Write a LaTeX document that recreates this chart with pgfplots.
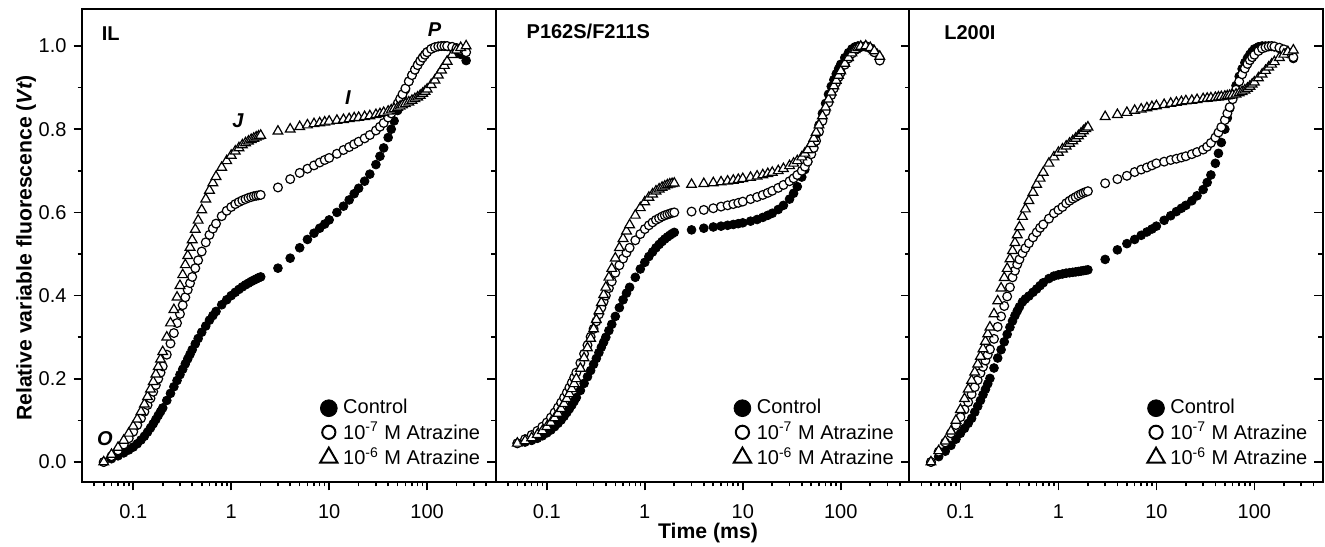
\documentclass[border=0pt]{standalone}
\usepackage{fontspec}
\setmainfont{Liberation Sans}
\usepackage{pgfplots}
\usepackage{pgfplotstable}
\pgfplotsset{compat=1.18}

\pgfplotstableread{
x c1 a71 a61 c2 a72 a62 c3 a73 a63
0.05 0.000 0.000 0.000 0.045 0.045 0.045 0.000 0.000 0.000
0.06 0.008 0.014 0.018 0.048 0.055 0.051 0.013 0.025 0.027
0.07 0.015 0.028 0.035 0.052 0.065 0.058 0.026 0.047 0.050
0.08 0.022 0.042 0.052 0.057 0.075 0.066 0.040 0.069 0.074
0.09 0.029 0.057 0.069 0.063 0.085 0.075 0.055 0.089 0.100
0.10 0.036 0.073 0.086 0.070 0.095 0.085 0.069 0.108 0.126
0.11 0.044 0.089 0.103 0.077 0.107 0.095 0.081 0.126 0.152
0.12 0.053 0.105 0.121 0.085 0.119 0.106 0.093 0.144 0.175
0.13 0.062 0.121 0.139 0.093 0.131 0.117 0.105 0.163 0.196
0.14 0.072 0.137 0.157 0.101 0.143 0.128 0.120 0.180 0.216
0.15 0.082 0.153 0.175 0.110 0.155 0.140 0.134 0.197 0.235
0.16 0.092 0.169 0.193 0.119 0.167 0.152 0.148 0.214 0.254
0.17 0.102 0.185 0.211 0.128 0.179 0.164 0.162 0.229 0.272
0.18 0.112 0.200 0.229 0.137 0.191 0.176 0.175 0.244 0.290
0.19 0.121 0.215 0.247 0.146 0.203 0.188 0.188 0.258 0.308
0.20 0.130 0.230 0.265 0.155 0.215 0.200 0.201 0.271 0.324
0.22 0.148 0.258 0.300 0.172 0.238 0.225 0.226 0.296 0.356
0.24 0.165 0.285 0.334 0.189 0.260 0.250 0.250 0.325 0.387
0.26 0.181 0.310 0.366 0.205 0.281 0.274 0.270 0.350 0.418
0.28 0.196 0.334 0.396 0.220 0.301 0.297 0.289 0.375 0.443
0.30 0.210 0.356 0.424 0.235 0.320 0.320 0.307 0.398 0.465
0.32 0.223 0.377 0.450 0.249 0.338 0.342 0.324 0.420 0.488
0.34 0.236 0.396 0.474 0.263 0.355 0.363 0.339 0.444 0.508
0.36 0.248 0.414 0.496 0.276 0.371 0.383 0.352 0.460 0.527
0.38 0.259 0.430 0.516 0.288 0.386 0.402 0.363 0.475 0.546
0.40 0.270 0.445 0.534 0.300 0.400 0.420 0.373 0.487 0.565
0.43 0.284 0.466 0.559 0.316 0.418 0.444 0.385 0.502 0.590
0.46 0.297 0.485 0.581 0.331 0.434 0.465 0.392 0.514 0.608
0.50 0.312 0.506 0.606 0.350 0.455 0.490 0.399 0.526 0.628
0.55 0.327 0.528 0.632 0.371 0.473 0.515 0.408 0.540 0.648
0.60 0.341 0.546 0.653 0.390 0.489 0.537 0.416 0.552 0.667
0.65 0.352 0.561 0.671 0.406 0.503 0.555 0.424 0.563 0.682
0.70 0.362 0.573 0.686 0.420 0.515 0.570 0.431 0.571 0.696
0.80 0.378 0.591 0.708 0.444 0.533 0.593 0.441 0.585 0.718
0.90 0.390 0.604 0.724 0.464 0.548 0.611 0.447 0.598 0.733
1.0 0.400 0.613 0.737 0.480 0.560 0.625 0.450 0.606 0.744
1.1 0.408 0.620 0.747 0.494 0.569 0.636 0.452 0.613 0.752
1.2 0.415 0.625 0.755 0.505 0.576 0.644 0.454 0.622 0.759
1.3 0.421 0.629 0.762 0.515 0.582 0.651 0.455 0.628 0.766
1.4 0.426 0.632 0.767 0.523 0.586 0.656 0.456 0.633 0.772
1.5 0.430 0.635 0.771 0.530 0.590 0.660 0.457 0.637 0.778
1.6 0.434 0.637 0.775 0.536 0.593 0.663 0.458 0.641 0.784
1.7 0.437 0.639 0.778 0.541 0.595 0.666 0.459 0.644 0.790
1.8 0.440 0.640 0.781 0.545 0.597 0.668 0.460 0.647 0.796
1.9 0.443 0.641 0.783 0.549 0.599 0.669 0.461 0.649 0.801
2.0 0.445 0.642 0.785 0.552 0.600 0.670 0.462 0.651 0.805
3 0.466 0.660 0.795 0.558 0.602 0.667 0.487 0.670 0.830
4 0.490 0.680 0.800 0.562 0.606 0.669 0.510 0.680 0.835
5 0.515 0.695 0.806 0.565 0.610 0.671 0.525 0.688 0.840
6 0.535 0.705 0.810 0.567 0.614 0.673 0.535 0.697 0.845
7 0.550 0.713 0.813 0.569 0.617 0.675 0.545 0.703 0.848
8 0.562 0.720 0.815 0.571 0.620 0.677 0.553 0.708 0.851
9 0.572 0.726 0.817 0.573 0.623 0.679 0.560 0.713 0.854
10 0.582 0.731 0.819 0.575 0.626 0.681 0.567 0.718 0.856
12 0.600 0.741 0.821 0.579 0.632 0.684 0.581 0.722 0.859
14 0.615 0.750 0.823 0.583 0.637 0.687 0.592 0.726 0.862
16 0.630 0.757 0.825 0.588 0.642 0.690 0.602 0.729 0.864
18 0.645 0.764 0.827 0.593 0.647 0.693 0.610 0.732 0.866
20 0.658 0.770 0.828 0.598 0.652 0.696 0.617 0.735 0.868
23 0.675 0.778 0.830 0.607 0.659 0.700 0.628 0.740 0.869
26 0.692 0.786 0.832 0.617 0.666 0.705 0.640 0.745 0.871
30 0.715 0.797 0.835 0.632 0.675 0.712 0.655 0.751 0.873
33 0.735 0.806 0.837 0.646 0.682 0.718 0.672 0.758 0.874
36 0.755 0.815 0.840 0.662 0.690 0.724 0.690 0.767 0.875
40 0.780 0.828 0.843 0.685 0.700 0.733 0.718 0.780 0.876
43 0.800 0.838 0.846 0.703 0.710 0.742 0.742 0.792 0.877
46 0.820 0.848 0.849 0.722 0.722 0.750 0.768 0.805 0.878
50 0.845 0.862 0.852 0.748 0.740 0.765 0.800 0.822 0.879
53 0.862 0.873 0.855 0.767 0.755 0.778 0.827 0.838 0.880
56 0.878 0.884 0.858 0.786 0.772 0.792 0.850 0.853 0.881
60 0.895 0.898 0.861 0.810 0.794 0.810 0.877 0.872 0.882
65 0.915 0.915 0.865 0.838 0.820 0.832 0.905 0.895 0.884
70 0.930 0.930 0.869 0.862 0.843 0.853 0.927 0.915 0.887
75 0.943 0.943 0.873 0.884 0.864 0.872 0.945 0.932 0.890
80 0.955 0.954 0.877 0.903 0.882 0.889 0.960 0.946 0.894
85 0.965 0.964 0.881 0.919 0.898 0.904 0.971 0.957 0.898
90 0.973 0.972 0.886 0.933 0.912 0.917 0.980 0.966 0.903
95 0.980 0.979 0.891 0.945 0.925 0.929 0.987 0.973 0.908
100 0.986 0.985 0.896 0.956 0.936 0.940 0.993 0.979 0.913
110 0.993 0.993 0.907 0.972 0.955 0.958 0.998 0.988 0.923
120 0.997 0.997 0.918 0.984 0.970 0.972 1.000 0.994 0.932
130 0.999 0.999 0.930 0.993 0.982 0.983 1.000 0.997 0.941
140 1.000 1.000 0.942 0.998 0.990 0.991 1.000 0.999 0.949
150 1.000 1.000 0.953 1.000 0.995 0.996 0.999 1.000 0.956
160 0.999 1.000 0.963 1.000 0.998 0.999 0.998 0.999 0.962
180 0.996 0.998 0.979 0.998 1.000 1.000 0.994 0.996 0.972
200 0.990 0.995 0.990 0.994 0.995 0.996 0.990 0.992 0.980
220 0.980 0.990 0.996 0.985 0.985 0.988 0.982 0.985 0.986
250 0.965 0.985 1.000 0.970 0.965 0.975 0.970 0.973 0.990
}\data

\pgfplotsset{
  legend image code/.code={\draw[#1] plot coordinates {(5pt,0pt)}; \path (0pt,0pt) (10pt,0pt);},
  ctrl/.style={only marks, mark=*, mark size=2.2pt, mark options={fill=black, draw=black, line width=0.4pt},
    legend image post style={mark size=4.2pt}},
  aseven/.style={only marks, mark=*, mark size=2.2pt, mark options={fill=white, draw=black, line width=0.6pt},
    legend image post style={mark size=3.3pt, mark options={line width=1pt, fill=white, draw=black}}},
  asix/.style={only marks, mark=triangle*, mark size=2.8pt, mark options={fill=white, draw=black, line width=0.6pt},
    legend image post style={mark size=5pt, mark options={line width=1pt, fill=white, draw=black}}},
  common/.style={anchor=south west, scale only axis,
    width=206.8pt, height=236.3pt,
    xmin=0.03, xmax=500, ymin=-0.048, ymax=1.088,
    major tick length=4.2pt, minor tick length=2.2pt,
    axis line style={line width=0.9pt},
    every tick/.append style={black, line width=0.8pt},
    tick label style={font=\fontsize{10}{12}\selectfont},
    ytick={0,0.2,0.4,0.6,0.8,1.0}, minor ytick={0.1,0.3,0.5,0.7,0.9}},
  panel/.style={common,
    xtick={0.1,1,10,100}, xticklabels={0.1,1,10,100},
    minor xtick={0.04,0.05,0.06,0.07,0.08,0.09,0.2,0.3,0.4,0.5,0.6,0.7,0.8,0.9,2,3,4,5,6,7,8,9,20,30,40,50,60,70,80,90,200,300,400},
    xtick pos=left, xtick align=outside,
    xticklabel style={yshift=-3.5pt},
    ytick pos=right, ytick align=inside, yticklabels={},
    legend style={at={(0.973,0.021)}, anchor=south east, draw=none, fill=none,
      font=\fontsize{10}{12}\selectfont, row sep=-1.3pt, inner sep=0pt,
      cells={anchor=west}}},
}

\begin{document}
\begin{tikzpicture}
\path[use as bounding box] (0,0) rectangle (662.5pt,273pt);

% Panel 1
\begin{semilogxaxis}[panel, at={(41pt,32pt)}]
\addplot[ctrl] table[x=x,y=c1] {\data};
\addplot[aseven] table[x=x,y=a71] {\data};
\addplot[asix] table[x=x,y=a61] {\data};
\legend{Control, 10\textsuperscript{-7} M Atrazine, 10\textsuperscript{-6} M Atrazine}
\node[anchor=west, font=\bfseries] at (rel axis cs:0.031,0.948) {IL};
\node[font=\bfseries\itshape] at (axis cs:0.0514,0.056) {O};
\node[font=\bfseries\itshape] at (axis cs:1.17,0.82) {J};
\node[font=\bfseries\itshape] at (axis cs:15.5,0.877) {I};
\node[font=\bfseries\itshape] at (axis cs:119,1.04) {P};
\end{semilogxaxis}

\begin{semilogxaxis}[common, at={(41pt,32pt)},
    xtick=\empty,
    yticklabels={0.0,0.2,0.4,0.6,0.8,1.0},
    ytick pos=left, ytick align=outside]
\addplot[draw=none] coordinates {(1,0.5)};
\end{semilogxaxis}

% Panel 2
\begin{semilogxaxis}[panel, at={(247.8pt,32pt)}]
\addplot[ctrl] table[x=x,y=c2] {\data};
\addplot[aseven] table[x=x,y=a72] {\data};
\addplot[asix] table[x=x,y=a62] {\data};
\legend{Control, 10\textsuperscript{-7} M Atrazine, 10\textsuperscript{-6} M Atrazine}
\node[anchor=west, font=\bfseries] at (rel axis cs:0.058,0.954) {P162S/F211S};
\end{semilogxaxis}

% Panel 3
\begin{semilogxaxis}[panel, at={(454.6pt,32pt)}]
\addplot[ctrl] table[x=x,y=c3] {\data};
\addplot[aseven] table[x=x,y=a73] {\data};
\addplot[asix] table[x=x,y=a63] {\data};
\legend{Control, 10\textsuperscript{-7} M Atrazine, 10\textsuperscript{-6} M Atrazine}
\node[anchor=west, font=\bfseries] at (rel axis cs:0.068,0.95) {L200I};
\end{semilogxaxis}

\node[rotate=90, anchor=base, font=\fontsize{10.6}{12}\selectfont\bfseries] at (15.8pt,149pt) {Relative variable fluorescence (\textit{Vt})};
\node[anchor=base, font=\fontsize{10.6}{12}\selectfont\bfseries] at (354pt,3.9pt) {Time (ms)};
\end{tikzpicture}
\end{document}
